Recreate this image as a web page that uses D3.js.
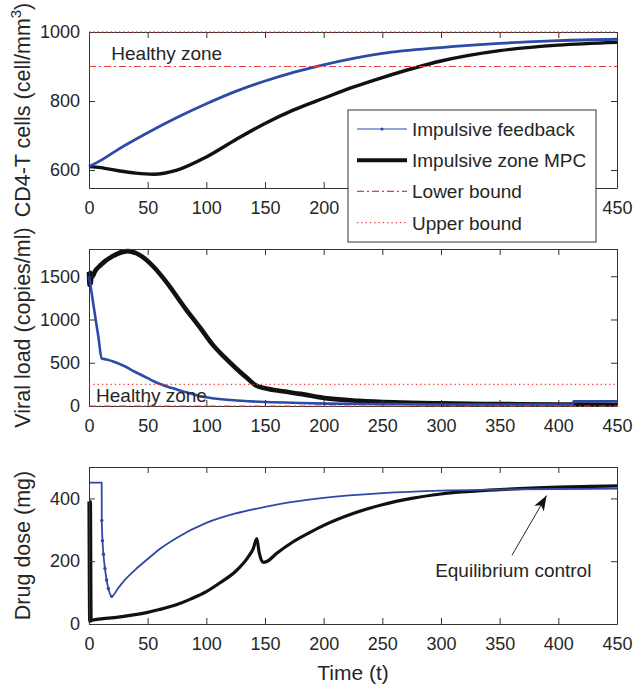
<!DOCTYPE html>
<html><head><meta charset="utf-8">
<script src="https://cdn.jsdelivr.net/npm/d3@7/dist/d3.min.js"></script>
<style>
body{margin:0;background:#fff}
text{font-family:"Liberation Sans",Arial,Helvetica,sans-serif;fill:#262626}
</style>
</head><body>
<svg id="chart" width="634" height="688"></svg>
<script>
// ---------------- data ----------------
const xTicks = [0, 50, 100, 150, 200, 250, 300, 350, 400, 450];
const xTicksHiddenByLegend = [250, 300, 350, 400];
const cd4Ticks = [600, 800, 1000];
const viralTicks = [0, 500, 1000, 1500];
const doseTicks = [0, 200, 400];

// Panel 1: CD4-T cells
const cd4FbTime = [0, 10, 25, 50, 75, 100, 125, 150, 175, 200, 250, 300, 350, 400, 450];
const cd4Feedback = [610, 628, 660, 708, 752, 792, 828, 858, 884, 905, 938, 955, 967, 975, 979];
const cd4MpcTime = [0, 10, 25, 40, 55, 75, 100, 125, 150, 175, 200, 225, 250, 300, 350, 400, 450];
const cd4Mpc = [610, 607, 598, 591, 588, 600, 638, 688, 735, 775, 808, 840, 868, 916, 946, 962, 970];
const cd4Lower = 900, cd4Upper = 1000;

// Panel 2: viral load
const viralFbTime = [0, 2, 5, 8, 10.8, 15, 20, 30, 39, 50, 56, 70, 82, 95, 107, 130, 151, 180, 203, 250, 300, 350, 412, 413, 450];
const viralFeedback = [1500, 1330, 1060, 800, 548, 538, 517, 462, 396, 322, 280, 210, 162, 112, 86, 60, 46, 35, 28, 22, 18, 16, 16, 55, 55];
const viralMpcTime = [0, 0.5, 1, 1.5, 2, 3, 5, 10, 20, 33, 45, 55, 65, 82, 95, 105, 115, 125, 135, 142, 150, 165, 180, 203, 230, 260, 300, 350, 400, 450];
const viralMpc = [1550, 1400, 1540, 1420, 1500, 1500, 1555, 1630, 1730, 1790, 1730, 1610, 1450, 1130, 900, 715, 570, 440, 320, 240, 205, 170, 140, 88, 60, 42, 30, 22, 18, 15];
const viralLower = 0, viralUpper = 250;

// Panel 3: drug dose
const doseFbTime = [0, 10.8, 10.9, 11.5, 12.3, 13.6, 15, 16.5, 19.3, 25, 30, 40, 50, 60, 75, 100, 125, 150, 175, 200, 250, 300, 350, 400, 450];
const doseFeedback = [450, 450, 330, 265, 222, 177, 140, 113, 88, 115, 138, 175, 207, 238, 275, 322, 352, 373, 390, 402, 417, 425, 428, 430, 431];
const doseMpcTime = [0, 0.6, 1.2, 1.8, 2.5, 25, 50, 60, 75, 87, 100, 112, 125, 135, 140, 143, 145, 148.5, 152, 160, 174, 190, 200, 225, 250, 275, 300, 350, 400, 450];
const doseMpc = [390, 8, 390, 10, 12, 22, 37, 46, 62, 80, 103, 132, 168, 210, 240, 272, 228, 196, 200, 225, 262, 295, 314, 352, 380, 400, 414, 428, 436, 440];

const seriesNames = ["Impulsive feedback", "Impulsive zone MPC", "Lower bound", "Upper bound"];

// ---------------- styles ----------------
const BLUE = "#2d4aa8", BLACK = "#111", RED = "#ee3b3b", AXIS = "#333";
const svg = d3.select("#chart");
const x = d3.scaleLinear().domain([0, 450]).range([89, 617]);

const panels = [
  {y: d3.scaleLinear().domain([548, 1000]).range([188, 32]), ticks: cd4Ticks,
   label: "CD4-T cells (cell/mm", sup: "3", suffix: ")",
   fb: [cd4FbTime, cd4Feedback], mpc: [cd4MpcTime, cd4Mpc], lower: cd4Lower, upper: cd4Upper,
   fbW: 2.8, mpcW: 3.4, hideX: xTicksHiddenByLegend},
  {y: d3.scaleLinear().domain([0, 1815]).range([406, 249]), ticks: viralTicks,
   label: "Viral load (copies/ml)",
   fb: [viralFbTime, viralFeedback], mpc: [viralMpcTime, viralMpc], lower: viralLower, upper: viralUpper,
   fbW: 2.6, mpcW: 4.6, hideX: []},
  {y: d3.scaleLinear().domain([0, 500]).range([624, 467]), ticks: doseTicks,
   label: "Drug dose (mg)",
   fb: [doseFbTime, doseFeedback], mpc: [doseMpcTime, doseMpc],
   fbW: 1.8, mpcW: 3.2, dots: true, hideX: []}
];

panels.forEach((p, i) => {
  const g = svg.append("g");
  const [y0, y1] = p.y.range();
  const clipId = "clip" + i;
  svg.append("clipPath").attr("id", clipId).append("rect")
    .attr("x", x(0) - 3).attr("y", y1 - 3).attr("width", x(450) - x(0) + 6).attr("height", y0 - y1 + 6);

  const data = g.append("g").attr("clip-path", `url(#${clipId})`);
  const line = d3.line().x(d => x(d[0])).y(d => p.y(d[1])).curve(d3.curveMonotoneX);

  const mpcPts = p.mpc[0].map((t, k) => [t, p.mpc[1][k]]);
  data.append("path").attr("d", line(mpcPts)).attr("fill", "none")
    .attr("stroke", BLACK).attr("stroke-width", p.mpcW).attr("stroke-linejoin", "round");
  const fbPts = p.fb[0].map((t, k) => [t, p.fb[1][k]]);
  data.append("path").attr("d", line(fbPts)).attr("fill", "none")
    .attr("stroke", BLUE).attr("stroke-width", p.fbW).attr("stroke-linejoin", "round");
  if (p.dots) {
    data.selectAll("circle.fb").data(fbPts.filter(d => d[0] > 10.8 && d[0] < 20)).join("circle")
      .attr("cx", d => x(d[0])).attr("cy", d => p.y(d[1])).attr("r", 1.7).attr("fill", BLUE);
  }

  const fmt = d3.format("d");
  const bottom = d3.axisBottom(x).tickValues(xTicks).tickSizeInner(-6).tickSizeOuter(0).tickPadding(13)
    .tickFormat(d => p.hideX.includes(d) ? "" : fmt(d));
  const top = d3.axisTop(x).tickValues(xTicks).tickSizeInner(-6).tickSizeOuter(0).tickFormat("");
  const left = d3.axisLeft(p.y).tickValues(p.ticks).tickSizeInner(-6).tickSizeOuter(0).tickPadding(9).tickFormat(fmt);
  const right = d3.axisRight(p.y).tickValues(p.ticks).tickSizeInner(-6).tickSizeOuter(0).tickFormat("");
  const ax = [
    g.append("g").attr("transform", `translate(0,${y0})`).call(bottom),
    g.append("g").attr("transform", `translate(0,${y1})`).call(top),
    g.append("g").attr("transform", `translate(${x(0)},0)`).call(left),
    g.append("g").attr("transform", `translate(${x(450)},0)`).call(right)
  ];
  ax.forEach(a => {
    a.select(".domain").attr("stroke", AXIS).attr("stroke-width", 1);
    a.selectAll(".tick line").attr("stroke", AXIS).attr("stroke-width", 1);
    a.selectAll(".tick text").attr("font-size", 18).style("fill", "#262626")
      .attr("font-family", '"Liberation Sans",Arial,sans-serif');
  });

  if (p.lower !== undefined) {
    g.append("line").attr("x1", x(0)).attr("x2", x(450)).attr("y1", p.y(p.lower)).attr("y2", p.y(p.lower))
      .attr("stroke", RED).attr("stroke-width", 1.2).attr("stroke-dasharray", "7,3,2,3");
    g.append("line").attr("x1", x(0)).attr("x2", x(450)).attr("y1", p.y(p.upper)).attr("y2", p.y(p.upper))
      .attr("stroke", RED).attr("stroke-width", 1.3).attr("stroke-dasharray", "1.3,3");
  }

  const lab = svg.append("text").attr("transform", `translate(30,${(y0 + y1) / 2}) rotate(-90)`)
    .attr("text-anchor", "middle").attr("font-size", 21.5).text(p.label);
  if (p.sup) {
    lab.append("tspan").attr("dy", -9).attr("font-size", 15).text(p.sup);
    lab.append("tspan").attr("dy", 9).text(p.suffix);
  }
});

svg.append("text").attr("x", x(19)).attr("y", panels[0].y(919)).attr("font-size", 19).text("Healthy zone");
svg.append("text").attr("x", x(6)).attr("y", panels[1].y(43)).attr("font-size", 19).text("Healthy zone");

svg.append("text").attr("x", x(225)).attr("y", 680).attr("text-anchor", "middle").attr("font-size", 21).text("Time (t)");

const yd = panels[2].y;
const tip = [x(390), yd(409)], tail = [x(360.5), yd(219)];
svg.append("line").attr("x1", tail[0]).attr("y1", tail[1]).attr("x2", tip[0]).attr("y2", tip[1])
  .attr("stroke", "#262626").attr("stroke-width", 1);
{
  const ang = Math.atan2(tip[1] - tail[1], tip[0] - tail[0]);
  const L = 15, Wd = 5.5;
  const bx = tip[0] - L * Math.cos(ang), by = tip[1] - L * Math.sin(ang);
  const px = -Math.sin(ang) * Wd, py = Math.cos(ang) * Wd;
  svg.append("path").attr("d", `M${tip[0]},${tip[1]}L${bx + px},${by + py}L${bx + 0.25*(tip[0]-bx)},${by + 0.25*(tip[1]-by)}L${bx - px},${by - py}Z`)
    .attr("fill", "#111");
}
svg.append("text").attr("x", x(295)).attr("y", yd(149)).attr("font-size", 19).text("Equilibrium control");

const lg = svg.append("g");
lg.append("rect").attr("x", 348).attr("y", 110).attr("width", 248).attr("height", 132)
  .attr("fill", "#fff").attr("stroke", AXIS).attr("stroke-width", 1);
const legStyles = [
  {stroke: BLUE, w: 1.2, dash: null, dot: true},
  {stroke: BLACK, w: 4, dash: null},
  {stroke: RED, w: 1.3, dash: "7,3,2,3"},
  {stroke: RED, w: 1.3, dash: "1.3,3"}
];
seriesNames.forEach((name, k) => {
  const yy = 129 + k * 31.2;
  const s = legStyles[k];
  lg.append("line").attr("x1", 357).attr("x2", 407).attr("y1", yy).attr("y2", yy)
    .attr("stroke", s.stroke).attr("stroke-width", s.w).attr("stroke-dasharray", s.dash);
  if (s.dot) lg.append("circle").attr("cx", 382).attr("cy", yy).attr("r", 1.6).attr("fill", BLUE);
  lg.append("text").attr("x", 412).attr("y", yy + 7).attr("font-size", 19).text(name);
});
</script>
</body></html>
